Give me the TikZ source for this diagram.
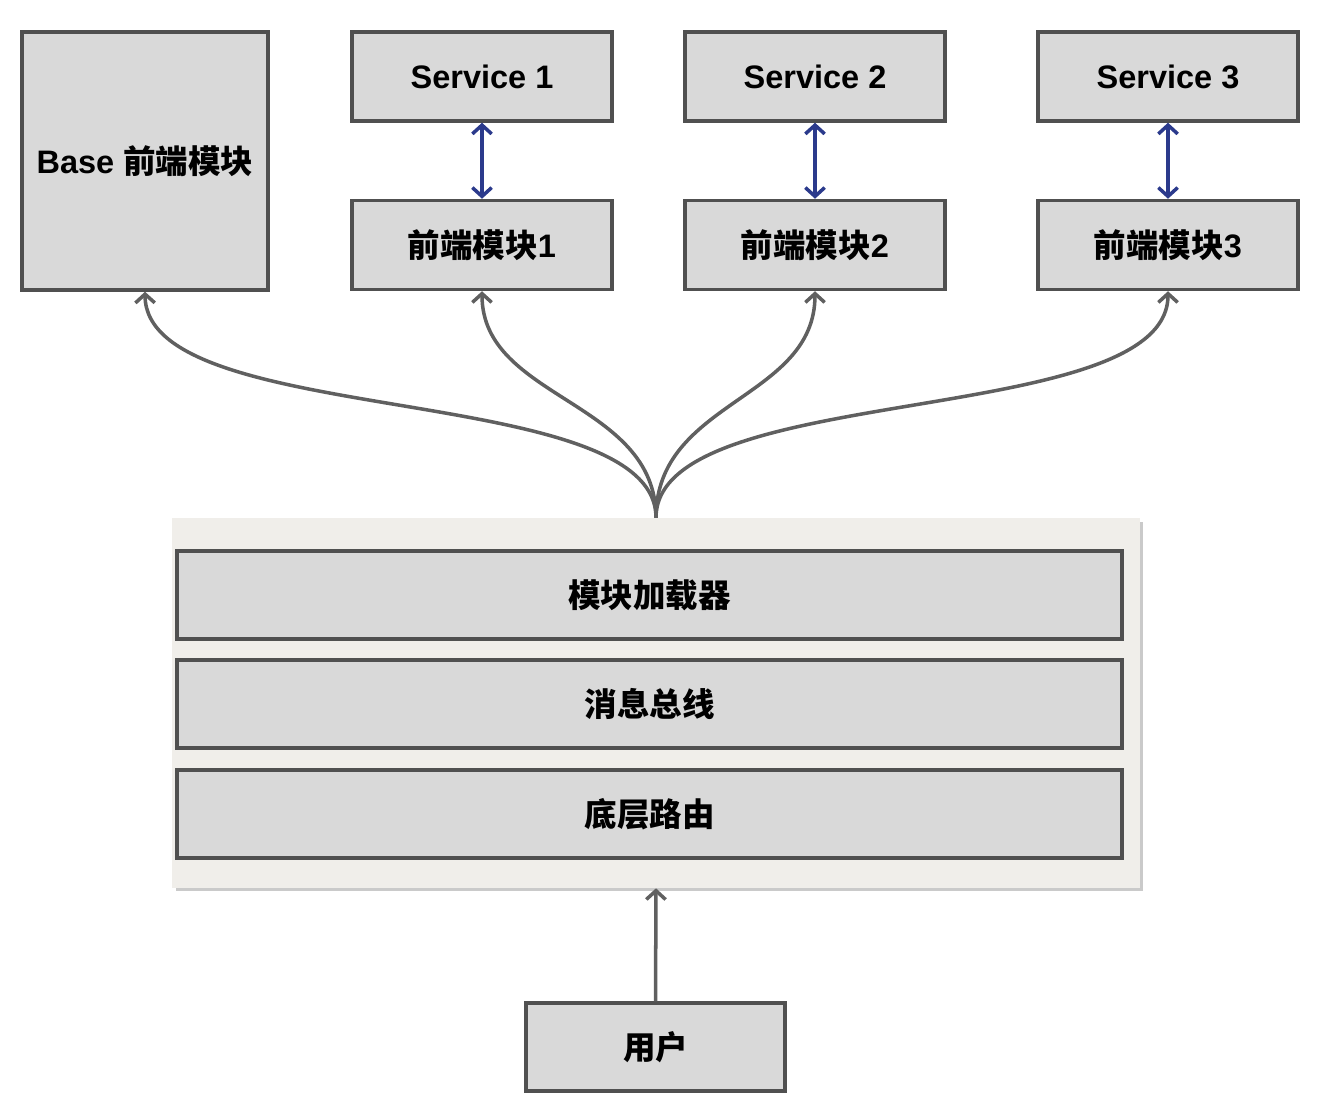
\documentclass[tikz,border=0pt]{standalone}
\usepackage{fontspec}
\setmainfont{Liberation Sans}
\newfontfamily\cjk{Noto Sans CJK SC}
\usetikzlibrary{arrows.meta, positioning, shadows}
\definecolor{boxgray}{RGB}{217, 217, 217}
\definecolor{boxline}{RGB}{80, 80, 80}
\definecolor{flowgray}{RGB}{96, 96, 96}
\definecolor{linkblue}{RGB}{43, 58, 140}
\definecolor{panelbg}{RGB}{240, 238, 234}

\begin{document}
\begin{tikzpicture}[x=0.02cm, y=-0.02cm,
  modbox/.style={draw=boxline, fill=boxgray, line width=2pt, inner sep=0pt,
    font=\bfseries\fontsize{18.5}{22}\selectfont, minimum width=5.2cm, minimum height=1.78cm},
  layerbox/.style={modbox, minimum width=18.9cm, minimum height=1.76cm},
  flow/.style={draw=flowgray, line width=2pt, -{Straight Barb[length=5pt, width=11pt]}},
  link/.style={draw=linkblue, line width=2pt,
    {Straight Barb[length=5pt, width=11pt]}-{Straight Barb[length=5pt, width=11pt]}}]
  \useasboundingbox (0,0) rectangle (1328,1104);

  % top row: modules and services
  \node[modbox, minimum width=4.92cm, minimum height=5.16cm] (base) at (145,161) {Base {\cjk 前端模块}};
  \node[modbox] (svc1) at (482,76.5) {Service 1};
  \node[modbox] (svc2) at (815,76.5) {Service 2};
  \node[modbox] (svc3) at (1168,76.5) {Service 3};
  \node[modbox] (mod1) at (482,245) {{\cjk 前端模块}1};
  \node[modbox] (mod2) at (815,245) {{\cjk 前端模块}2};
  \node[modbox] (mod3) at (1168,245) {{\cjk 前端模块}3};

  % core panel with its layers
  \node[fill=panelbg, inner sep=0pt, minimum width=19.36cm, minimum height=7.4cm,
    drop shadow={shadow xshift=2pt, shadow yshift=-2pt, fill=black!35, opacity=0.6}] (core) at (656,703) {};
  \node[layerbox] (loader) at (649.5,595) {\cjk 模块加载器};
  \node[layerbox] (bus) at (649.5,704) {\cjk 消息总线};
  \node[layerbox] (router) at (649.5,814) {\cjk 底层路由};

  \node[modbox, minimum width=5.18cm, minimum height=1.76cm] (user) at (655.5,1047) {\cjk 用户};

  % connectors
  \foreach \i in {1,2,3}
    \draw[link] (svc\i.south) -- (mod\i.north);
  \draw[flow] (core.north) .. controls (656,380) and (146,430) .. (base.south);
  \draw[flow] (core.north) .. controls (656,400) and (482,400) .. (mod1.south);
  \draw[flow] (core.north) .. controls (656,400) and (815,400) .. (mod2.south);
  \draw[flow] (core.north) .. controls (656,380) and (1168,430) .. (mod3.south);
  \draw[flow] (user.north) -- (core.south);
\end{tikzpicture}
\end{document}
